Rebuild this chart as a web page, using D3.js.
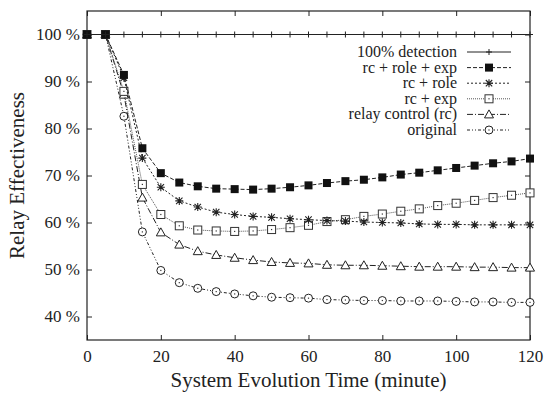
<!DOCTYPE html>
<html>
<head>
<meta charset="utf-8">
<script src="https://cdn.jsdelivr.net/npm/d3@7"></script>
<style>
  body { margin: 0; background: #fff; }
  svg text { font-family: "Liberation Serif", "Times New Roman", serif; fill: #222; }
</style>
</head>
<body>
<script>
// relay effectiveness chart

var w = 544, h = 393;
var serif = "Liberation Serif";

var times = [0, 5, 10, 15, 20, 25, 30, 35, 40, 45, 50, 55, 60, 65, 70, 75, 80, 85, 90, 95, 100, 105, 110, 115, 120];
var detection100 = [100, 100, 100, 100, 100, 100, 100, 100, 100, 100, 100, 100, 100, 100, 100, 100, 100, 100, 100, 100, 100, 100, 100, 100, 100];
var rcRoleExp = [100, 100, 91.4, 75.8, 70.5, 68.5, 67.7, 67.2, 67.1, 67.0, 67.2, 67.5, 67.9, 68.4, 68.8, 69.1, 69.6, 70.2, 70.6, 71.1, 71.6, 72.1, 72.6, 73.0, 73.6];
var rcRole = [100, 100, 90.8, 73.7, 67.5, 64.6, 63.3, 62.2, 61.7, 61.3, 61.1, 60.8, 60.6, 60.4, 60.3, 60.1, 60.0, 59.9, 59.7, 59.6, 59.6, 59.5, 59.5, 59.5, 59.5];
var rcExp = [100, 100, 87.9, 68.1, 61.7, 59.3, 58.4, 58.2, 58.1, 58.2, 58.5, 58.9, 59.4, 60.2, 60.6, 61.3, 61.8, 62.4, 62.9, 63.6, 64.1, 64.7, 65.3, 65.8, 66.3];
var relayControl = [100, 100, 87.2, 65.3, 57.9, 55.3, 53.9, 53.1, 52.5, 52.0, 51.6, 51.4, 51.3, 51.0, 50.9, 50.9, 50.8, 50.7, 50.6, 50.6, 50.6, 50.5, 50.5, 50.4, 50.4];
var original = [100, 100, 82.6, 58.0, 49.8, 47.2, 46.0, 45.3, 44.8, 44.4, 44.1, 44.0, 43.9, 43.6, 43.5, 43.4, 43.4, 43.3, 43.3, 43.3, 43.2, 43.1, 43.1, 43.0, 43.0];

var xTicks = [0, 20, 40, 60, 80, 100, 120];
var yTicks = [40, 50, 60, 70, 80, 90, 100];

var seriesNames = ["100% detection", "rc + role + exp", "rc + role", "rc + exp", "relay control (rc)", "original"];
var seriesValues = [detection100, rcRoleExp, rcRole, rcExp, relayControl, original];
var seriesDash = [null, "4,2", "2,2", "1,1", "6,2,1,2", "3,2,1,2,1,2"];
var seriesColor = ["#222", "#222", "#222", "#555", "#222", "#222"];
var seriesMarker = ["plus", "fsquare", "star", "osquare", "triangle", "circle"];

var margin = {left: 87, right: 14, top: 11, bottom: 53};

var x = d3.scaleLinear().domain([0, 120]).range([margin.left, w - margin.right]);
var y = d3.scaleLinear().domain([35, 105]).range([h - margin.bottom, margin.top]);

var svg = d3.select("body")
    .append("svg")
    .attr("width", w)
    .attr("height", h);

// frame + inward ticks
var axisStyle = function(g) {
    g.attr("font-family", serif).attr("font-size", 17);
    g.select(".domain").remove();
    g.selectAll("line").attr("stroke", "#222");
    g.selectAll("text").attr("fill", "#222");
};

svg.append("g")
    .attr("transform", "translate(0," + (h - margin.bottom) + ")")
    .call(d3.axisBottom(x).tickValues(xTicks).tickSize(-5).tickPadding(10))
    .call(axisStyle);
svg.append("g")
    .attr("transform", "translate(0," + margin.top + ")")
    .call(d3.axisTop(x).tickValues(xTicks).tickSize(-5).tickFormat(""))
    .call(axisStyle);
svg.append("g")
    .attr("transform", "translate(" + margin.left + ",0)")
    .call(d3.axisLeft(y).tickValues(yTicks).tickSize(-5).tickPadding(7).tickFormat(function(d) { return d + " %"; }))
    .call(axisStyle);
svg.append("g")
    .attr("transform", "translate(" + (w - margin.right) + ",0)")
    .call(d3.axisRight(y).tickValues(yTicks).tickSize(-5).tickFormat(""))
    .call(axisStyle);

svg.append("rect")
    .attr("x", margin.left)
    .attr("y", margin.top)
    .attr("width", w - margin.left - margin.right)
    .attr("height", h - margin.top - margin.bottom)
    .attr("fill", "none")
    .attr("stroke", "#222")
    .attr("stroke-width", 1.2);

// axis titles
svg.append("text")
    .attr("x", (margin.left + w - margin.right) / 2)
    .attr("y", 387)
    .attr("text-anchor", "middle")
    .attr("font-family", serif)
    .attr("font-size", 21)
    .text("System Evolution Time (minute)");

svg.append("text")
    .attr("transform", "translate(24," + ((margin.top + h - margin.bottom) / 2) + ") rotate(-90)")
    .attr("text-anchor", "middle")
    .attr("font-family", serif)
    .attr("font-size", 21)
    .text("Relay Effectiveness");

// markers
var drawMarker = function(g, type, cx, cy, color) {
    var s = 4;
    if (type == "plus") {
        s = 3;
        g.append("path").attr("d", "M" + (cx - s) + "," + cy + "H" + (cx + s) + "M" + cx + "," + (cy - s) + "V" + (cy + s))
            .attr("stroke", color).attr("stroke-width", 1);
    } else if (type == "fsquare") {
        g.append("rect").attr("x", cx - s).attr("y", cy - s).attr("width", 2 * s).attr("height", 2 * s)
            .attr("fill", "#111");
    } else if (type == "osquare") {
        g.append("rect").attr("x", cx - s).attr("y", cy - s).attr("width", 2 * s).attr("height", 2 * s)
            .attr("fill", "#fff").attr("stroke", "#333").attr("stroke-width", 1);
        g.append("rect").attr("x", cx - 0.6).attr("y", cy - 0.6).attr("width", 1.2).attr("height", 1.2).attr("fill", "#333");
    } else if (type == "star") {
        var p = "M" + (cx - s) + "," + cy + "H" + (cx + s) + "M" + cx + "," + (cy - s) + "V" + (cy + s)
            + "M" + (cx - s * 0.8) + "," + (cy - s * 0.8) + "L" + (cx + s * 0.8) + "," + (cy + s * 0.8)
            + "M" + (cx - s * 0.8) + "," + (cy + s * 0.8) + "L" + (cx + s * 0.8) + "," + (cy - s * 0.8);
        g.append("path").attr("d", p).attr("stroke", "#222").attr("stroke-width", 1.1);
    } else if (type == "triangle") {
        g.append("path").attr("d", "M" + cx + "," + (cy - s - 0.5) + "L" + (cx + s + 0.5) + "," + (cy + s - 0.5) + "L" + (cx - s - 0.5) + "," + (cy + s - 0.5) + "Z")
            .attr("fill", "#fff").attr("stroke", "#222").attr("stroke-width", 1);
    } else if (type == "circle") {
        g.append("circle").attr("cx", cx).attr("cy", cy).attr("r", s)
            .attr("fill", "#fff").attr("stroke", "#222").attr("stroke-width", 1);
        g.append("rect").attr("x", cx - 0.6).attr("y", cy - 0.6).attr("width", 1.2).attr("height", 1.2).attr("fill", "#333");
    }
};

var line = d3.line()
    .x(function(d) { return x(d[0]); })
    .y(function(d) { return y(d[1]); });

// draw in reverse so 100% detection and rc+role+exp are on top
for (var k = seriesNames.length - 1; k >= 0; k--) {
    var pts = times.map(function(t, i) { return [t, seriesValues[k][i]]; });
    var g = svg.append("g").attr("class", "series" + k);
    g.append("path")
        .datum(pts)
        .attr("d", line)
        .attr("fill", "none")
        .attr("stroke", seriesColor[k])
        .attr("stroke-width", 1)
        .attr("stroke-dasharray", seriesDash[k]);
    pts.forEach(function(d) {
        drawMarker(g, seriesMarker[k], x(d[0]), y(d[1]), seriesColor[k]);
    });
}

// legend
var legend = svg.append("g").attr("class", "legend");
seriesNames.forEach(function(name, k) {
    var ly = 52 + k * 15.6;
    legend.append("text")
        .attr("x", 457)
        .attr("y", ly + 5)
        .attr("text-anchor", "end")
        .attr("font-family", serif)
        .attr("font-size", 16)
        .text(name);
    legend.append("line")
        .attr("x1", 467).attr("x2", 511)
        .attr("y1", ly).attr("y2", ly)
        .attr("stroke", seriesColor[k])
        .attr("stroke-width", 1)
        .attr("stroke-dasharray", seriesDash[k]);
    drawMarker(legend, seriesMarker[k], 489, ly, seriesColor[k]);
});
</script>
</body>
</html>
